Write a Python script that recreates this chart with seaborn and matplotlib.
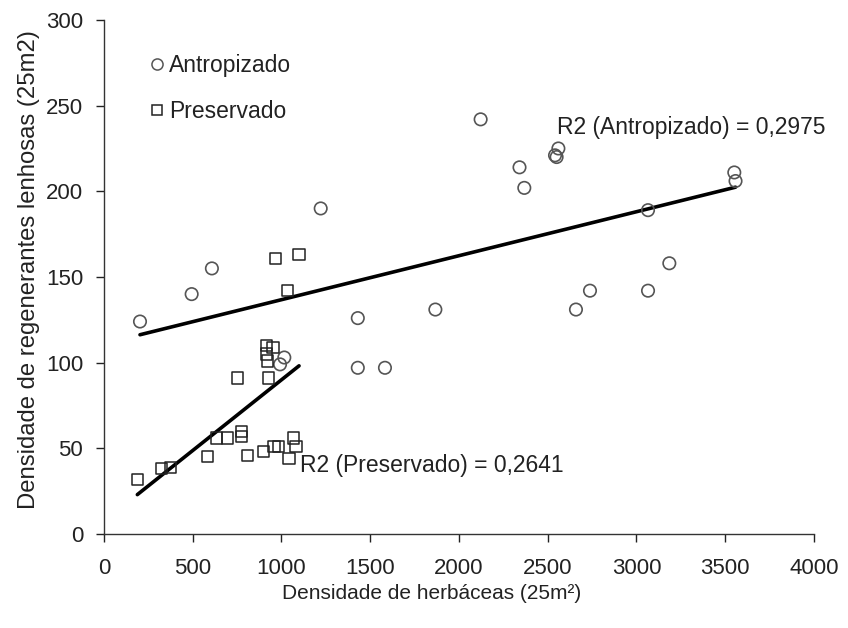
import matplotlib
matplotlib.use("Agg")
import matplotlib.pyplot as plt
import seaborn as sns
import numpy as np
import pandas as pd
from matplotlib.lines import Line2D

sns.set_theme(style="white")
plt.rcParams['font.family'] = ['Liberation Sans', 'DejaVu Sans']

antrop_x = [203, 494, 608, 1221, 992, 1016, 1430, 1430, 1583, 1867, 2122, 2341, 2368,
            2541, 2550, 2560, 2659, 2738, 3065, 3065, 3185, 3551, 3558]
antrop_y = [124, 140, 155, 190, 99, 103, 126, 97, 97, 131, 242, 214, 202,
            221, 220, 225, 131, 142, 189, 142, 158, 211, 206]

preserv_x = [188, 325, 377, 584, 635, 696, 776, 776, 809, 897, 958, 985, 1042, 1066,
             1082, 753, 925, 917, 952, 917, 920, 967, 1099, 1034]
preserv_y = [32, 38, 39, 45, 56, 56, 60, 57, 46, 48, 51, 51, 44, 56,
             51, 91, 91, 110, 109, 105, 101, 161, 163, 142]

groups = ["Antropizado", "Preservado"]
r2_labels = ["R2 (Antropizado) = 0,2975", "R2 (Preservado) = 0,2641"]
x_ticks = [0, 500, 1000, 1500, 2000, 2500, 3000, 3500, 4000]
y_ticks = [0, 50, 100, 150, 200, 250, 300]

df = pd.DataFrame({
    "x": antrop_x + preserv_x,
    "y": antrop_y + preserv_y,
    "grupo": [groups[0]] * len(antrop_x) + [groups[1]] * len(preserv_x),
})

fig = plt.figure(figsize=(8.48, 6.28), dpi=100)
ax = fig.add_axes([0.1226, 0.1497, 0.8373, 0.8185])

edge = "#555555"
sns.scatterplot(data=df[df.grupo == groups[0]], x="x", y="y", marker="o", s=80,
                facecolor="none", edgecolor=edge, linewidth=1.2, ax=ax, zorder=3)
sns.scatterplot(data=df[df.grupo == groups[1]], x="x", y="y", marker="s", s=65,
                facecolor="none", edgecolor="#222222", linewidth=1.1, ax=ax, zorder=3)

for g in groups:
    sub = df[df.grupo == g]
    sns.regplot(data=sub, x="x", y="y", scatter=False, ci=None, truncate=True,
                line_kws=dict(color="black", linewidth=2.6), ax=ax)

ax.set_xlim(0, 4000)
ax.set_ylim(0, 300)
ax.set_xticks(x_ticks)
ax.set_yticks(y_ticks)
ax.tick_params(axis="both", labelsize=16, colors="#222222", length=6, width=1,
               direction="out", bottom=True, left=True)
ax.tick_params(axis="x", pad=11)
ax.tick_params(axis="y", pad=9)
for lbl in ax.get_xticklabels() + ax.get_yticklabels():
    lbl.set_color("#222222")
for s in ["top", "right"]:
    ax.spines[s].set_visible(False)
for s in ["left", "bottom"]:
    ax.spines[s].set_color("#333333")
    ax.spines[s].set_linewidth(1.0)

ax.set_xlabel("Densidade de herbáceas (25m²)", fontsize=15, color="#222222",
              labelpad=4, x=0.462)
ax.set_ylabel("Densidade de regenerantes lenhosas (25m2)", fontsize=17.2, color="#222222",
              labelpad=4, y=0.514)

ax.text(2552, 237, r2_labels[0], fontsize=16.5, color="#222222", va="center", ha="left",
        clip_on=False)
ax.text(1104, 40, r2_labels[1], fontsize=16.5, color="#222222", va="center", ha="left")

handles = [
    Line2D([], [], marker="o", linestyle="none", markersize=8, markerfacecolor="none",
           markeredgecolor=edge, markeredgewidth=1.1),
    Line2D([], [], marker="s", linestyle="none", markersize=7.5, markerfacecolor="none",
           markeredgecolor="#222222", markeredgewidth=1.1),
]
leg = ax.legend(handles, groups, loc="upper left", bbox_to_anchor=(0.046, 0.952),
                frameon=False, fontsize=16.5, handletextpad=0.0, labelspacing=1.0,
                handlelength=1.0, borderaxespad=0)
for t in leg.get_texts():
    t.set_color("#222222")

fig.savefig("out.png", dpi=100)
